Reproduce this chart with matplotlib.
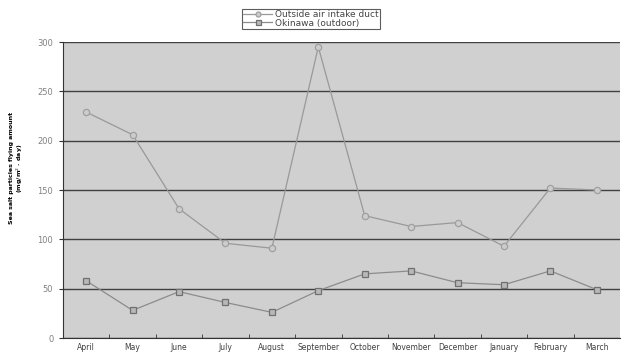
import matplotlib
matplotlib.use("Agg")
import matplotlib.pyplot as plt
import numpy as np

months = ["April", "May", "June", "July", "August", "September", "October",
          "November", "December", "January", "February", "March"]
outside = [229, 206, 131, 96, 91, 295, 124, 113, 117, 93, 152, 150]
okinawa = [58, 28, 47, 36, 26, 48, 65, 68, 56, 54, 68, 49]
yticks = [0, 50, 100, 150, 200, 250, 300]

fig = plt.figure(figsize=(6.22, 3.52), dpi=100)
ax = fig.add_axes([63/622, 1-338/352, (620-63)/622, (338-42)/352])
ax.set_facecolor("#d0d0d0")
x = np.arange(len(months))

l1, = ax.plot(x, outside, color="#999999", lw=0.9, marker="o", ms=4.5,
              mfc="#cccccc", mec="#a0a0a0", mew=0.9, label="Outside air intake duct")
l2, = ax.plot(x, okinawa, color="#8c8c8c", lw=0.9, marker="s", ms=4.5,
              mfc="#b8b8b8", mec="#707070", mew=0.9, label="Okinawa (outdoor)")

ax.set_xlim(-0.5, len(months)-0.5)
ax.set_ylim(0, 300)
ax.set_yticks(yticks)
ax.set_yticklabels([str(v) for v in yticks], color="#808080", fontsize=6)
ax.yaxis.grid(True, color="#404040", lw=1.0)
ax.set_axisbelow(True)
ax.set_xticks(x)
ax.set_xticklabels(months, fontsize=5.5, color="#404040")
ax.tick_params(axis="x", length=0, pad=3.5)
ax.set_xticks(np.arange(0.5, len(months)-0.5, 1), minor=True)
ax.tick_params(axis="x", which="minor", direction="in", length=3, color="#333333")
ax.tick_params(axis="y", length=3, color="#333333", pad=4)
for s in ["top", "right"]:
    ax.spines[s].set_visible(False)
ax.spines["left"].set_color("#333333")
ax.spines["bottom"].set_color("#333333")

ax.set_ylabel("Sea salt particles flying amount\n(mg/m$^2$ · day)", fontsize=4.5,
              fontweight="bold", linespacing=1.1)
ax.yaxis.set_label_coords(-0.068, 0.573)

leg = fig.legend(handles=[l1, l2], loc="center", bbox_to_anchor=(311/622, 1-19/352),
                 fontsize=6.5, frameon=True, fancybox=False, edgecolor="#333333",
                 handlelength=3.2, borderpad=0.15, labelspacing=-0.1, handletextpad=0.3,
                 borderaxespad=0, markerscale=0.8)
leg.get_frame().set_linewidth(0.8)
for t in leg.get_texts():
    t.set_color("#444444")

fig.savefig("out.png", dpi=100)
